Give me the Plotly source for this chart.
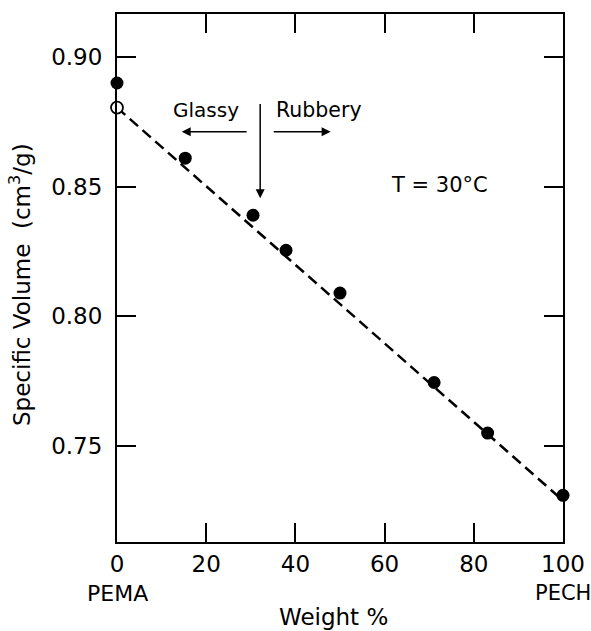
import plotly.graph_objects as go

# Data
weight_filled = [0, 15.3, 30.5, 37.9, 50.0, 71.1, 83.1, 100]
sv_filled = [0.890, 0.861, 0.839, 0.8255, 0.809, 0.7745, 0.755, 0.731]
weight_open = [0]
sv_open = [0.8805]
fit_x = [0, 100]
fit_y = [0.8805, 0.729]

x_ticks = [0, 20, 40, 60, 80, 100]
x_ticklabels = ["0", "20", "40", "60", "80", "100"]
y_ticks = [0.75, 0.80, 0.85, 0.90]
y_ticklabels = ["0.75", "0.80", "0.85", "0.90"]

FONT = "DejaVu Sans"

fig = go.Figure()
fig.add_trace(go.Scatter(x=fit_x, y=fit_y, mode="lines",
                         line=dict(color="black", width=2.5, dash="11px,6px"),
                         showlegend=False, hoverinfo="skip"))
fig.add_trace(go.Scatter(x=weight_filled, y=sv_filled, mode="markers",
                         marker=dict(color="black", size=13, line=dict(width=0)),
                         cliponaxis=False, showlegend=False))
fig.add_trace(go.Scatter(x=weight_open, y=sv_open, mode="markers",
                         marker=dict(color="white", size=12, line=dict(color="black", width=1.8)),
                         cliponaxis=False, showlegend=False))

axis_common = dict(showline=True, mirror="ticks", linecolor="black", linewidth=2,
                   ticks="inside", ticklen=19, tickwidth=1.5, tickcolor="black",
                   showgrid=False, zeroline=False, automargin=False,
                   tickfont=dict(family=FONT, size=23, color="black"))

fig.update_xaxes(range=[0, 100], tickvals=x_ticks, ticktext=x_ticklabels,
                 ticklabelstandoff=0, **axis_common)
fig.update_yaxes(range=[0.713, 0.9166], tickvals=y_ticks, ticktext=y_ticklabels,
                 ticklabelstandoff=8, **axis_common)

plot_top, plot_bottom = 14, 542
plot_left, plot_right = 117, 563


def paper_y(px):
    return (plot_bottom - px) / (plot_bottom - plot_top)


def paper_x(px):
    return (px - plot_left) / (plot_right - plot_left)


annotations = [
    # arrows
    dict(x=14.5, y=0.8712, ax=29.4, ay=0.8712, axref="x", ayref="y", xref="x", yref="y",
         showarrow=True, arrowhead=2, arrowsize=1.2, arrowwidth=1.5, arrowcolor="black", text=""),
    dict(x=47.9, y=0.8712, ax=34.8, ay=0.8712, axref="x", ayref="y", xref="x", yref="y",
         showarrow=True, arrowhead=2, arrowsize=1.2, arrowwidth=1.5, arrowcolor="black", text=""),
    dict(x=32.1, y=0.8456, ax=32.1, ay=0.8825, axref="x", ayref="y", xref="x", yref="y",
         showarrow=True, arrowhead=2, arrowsize=1.2, arrowwidth=1.5, arrowcolor="black", text=""),
    # texts
    dict(x=20.0, y=0.8796, xref="x", yref="y", text="Glassy", showarrow=False,
         font=dict(family=FONT, size=20, color="black")),
    dict(x=45.3, y=0.8796, xref="x", yref="y", text="Rubbery", showarrow=False,
         font=dict(family=FONT, size=20.5, color="black")),
    dict(x=72.4, y=0.8507, xref="x", yref="y", text="T = 30°C", showarrow=False,
         font=dict(family=FONT, size=21, color="black")),
    # category labels under axis
    dict(x=0, y=paper_y(593), xref="x", yref="paper", yanchor="middle", text="PEMA",
         showarrow=False, font=dict(family=FONT, size=22, color="black")),
    dict(x=100, y=paper_y(593), xref="x", yref="paper", yanchor="middle", text="PECH",
         showarrow=False, font=dict(family=FONT, size=21, color="black")),
    # axis titles
    dict(x=paper_x(333), y=paper_y(617), xref="paper", yref="paper",
         yanchor="middle", xanchor="center", text="Weight %", showarrow=False,
         font=dict(family=FONT, size=23, color="black")),
    dict(x=paper_x(20), y=paper_y(285), xref="paper", yref="paper",
         yanchor="middle", xanchor="center", textangle=-90,
         text="Specific Volume  (cm<sup>3</sup>/g)", showarrow=False,
         font=dict(family=FONT, size=23, color="black")),
]

fig.update_layout(
    width=591, height=631,
    margin=dict(l=plot_left, r=591 - plot_right, t=plot_top, b=631 - plot_bottom),
    paper_bgcolor="white", plot_bgcolor="white",
    annotations=annotations,
)

fig.write_html("out.html")
